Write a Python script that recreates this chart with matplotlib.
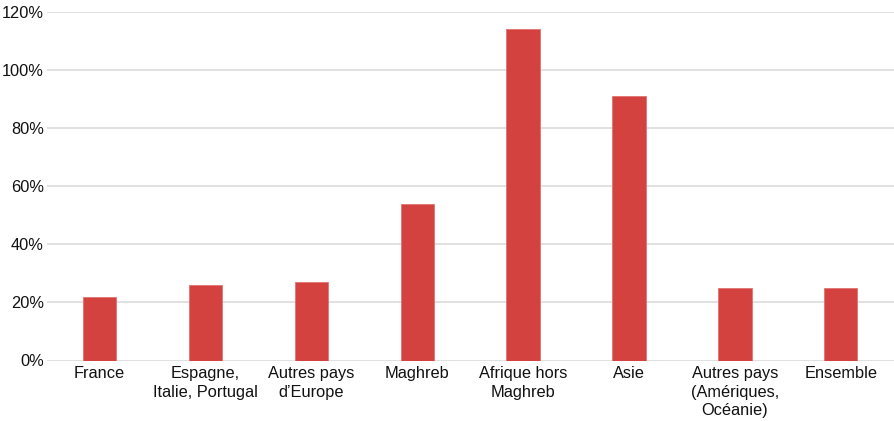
import matplotlib
matplotlib.use("Agg")
import matplotlib.pyplot as plt
from matplotlib.ticker import FuncFormatter

categories = ["France", "Espagne,\nItalie, Portugal", "Autres pays\nd\u2019Europe", "Maghreb",
              "Afrique hors\nMaghreb", "Asie", "Autres pays\n(Am\u00e9riques,\nOc\u00e9anie)", "Ensemble"]
values = [22, 26, 27, 54, 114, 91, 25, 25]
yticks = [0, 20, 40, 60, 80, 100, 120]

plt.rcParams['font.family'] = ['Liberation Sans', 'DejaVu Sans']

W, H = 894, 421
fig = plt.figure(figsize=(W / 100, H / 100), dpi=100)
left, right, top, bottom = 46.6, 893.7, 12, 360.5
ax = fig.add_axes([left / W, 1 - bottom / H, (right - left) / W, (bottom - top) / H])

x = list(range(len(categories)))
ax.bar(x, values, width=0.315, color="#D4423F", edgecolor="#E07270", linewidth=0.6, zorder=3)

ax.set_xlim(-0.5, len(categories) - 0.5)
ax.set_ylim(0, 120)
ax.set_yticks(yticks)
ax.yaxis.set_major_formatter(FuncFormatter(lambda v, p: f"{int(v)}%"))
ax.set_xticks(x)
ax.set_xticklabels(categories, fontsize=11.8, color="#111111", linespacing=1.3)
ax.tick_params(axis="y", labelsize=11.8, labelcolor="#111111", length=0, pad=2)
ax.tick_params(axis="x", length=0, pad=4)
ax.grid(axis="y", color="#E0E0E0", linewidth=1.4, zorder=0)
ax.set_axisbelow(True)
for s in ax.spines.values():
    s.set_visible(False)

fig.savefig("out.png", dpi=100)
